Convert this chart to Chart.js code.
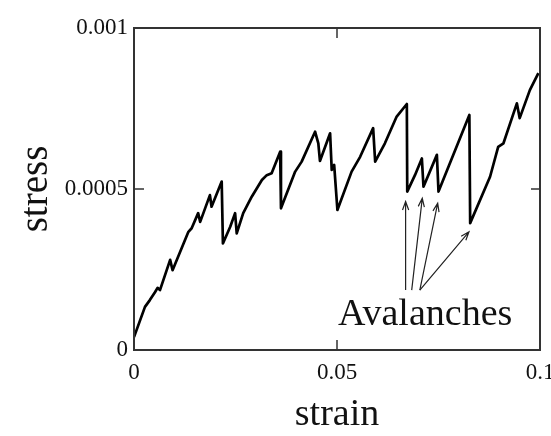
<!DOCTYPE html>
<html>
<head>
<meta charset="utf-8">
<script src="https://cdn.jsdelivr.net/npm/chart.js@4.4.1/dist/chart.umd.min.js"></script>
<style>
  html, body { margin: 0; padding: 0; background: #fff; }
  #wrap { width: 551px; height: 436px; }
</style>
</head>
<body>
<div id="wrap"><canvas id="stressChart" width="551" height="436"></canvas></div>
<script>
/* stress-strain curve with avalanche drops */
const strain = [0, 0.0027, 0.0039, 0.0052, 0.0058, 0.0064, 0.0089, 0.0095, 0.0134, 0.0142,
    0.0158, 0.0163, 0.0187, 0.0191, 0.0216, 0.0219, 0.0237, 0.0249, 0.0253, 0.0269,
    0.0290, 0.0315, 0.0327, 0.0339, 0.0360, 0.0362, 0.0397, 0.0413, 0.0446, 0.0454,
    0.0458, 0.0483, 0.0487, 0.0493, 0.0501, 0.0536, 0.0557, 0.0589, 0.0594, 0.0618,
    0.0647, 0.0672, 0.0673, 0.0692, 0.0709, 0.0713, 0.0746, 0.0750, 0.0826, 0.0828,
    0.0877, 0.0897, 0.0910, 0.0943, 0.0950, 0.0975, 0.0996];
const stress = [0.00004, 0.000134, 0.000155, 0.00018, 0.000193, 0.000186, 0.00028, 0.000248, 0.000367, 0.000378,
    0.000425, 0.000398, 0.000481, 0.000445, 0.000523, 0.000331, 0.000383, 0.000425, 0.000362, 0.000425,
    0.000476, 0.000528, 0.000543, 0.000549, 0.000616, 0.00044, 0.000554, 0.000585, 0.000678, 0.000642,
    0.000587, 0.000673, 0.000559, 0.000575, 0.000435, 0.000554, 0.0006, 0.000689, 0.000585, 0.000642,
    0.000725, 0.000764, 0.000492, 0.000543, 0.000595, 0.000507, 0.000606, 0.000492, 0.00073, 0.000394,
    0.000538, 0.000631, 0.000642, 0.000766, 0.00072, 0.000807, 0.00086];

const xTickLabels = ['0', '0.05', '0.1'];
const yTickLabels = ['0', '0.0005', '0.001'];

// annotation: arrows from the label up to the avalanche minima
const arrowFromX = [0.0669, 0.0684, 0.0704, 0.0704];
const arrowFromY = [0.000186, 0.000186, 0.000186, 0.000186];
const arrowToX   = [0.0669, 0.0710, 0.0748, 0.0825];
const arrowToY   = [0.000461, 0.000471, 0.000456, 0.000367];
const noteText = 'Avalanches';
const noteAt = [0.0717, 0.000078];

const SERIF = '"Liberation Serif", "Times New Roman", serif';

const decor = {
    id: 'decor',
    afterDatasetsDraw(chart) {
        const { ctx, chartArea: a, scales: { x, y } } = chart;
        ctx.save();
        // frame
        ctx.strokeStyle = '#333';
        ctx.lineWidth = 2;
        ctx.strokeRect(a.left, a.top, a.right - a.left, a.bottom - a.top);
        // inward ticks on all four sides
        ctx.lineWidth = 1.5;
        ctx.beginPath();
        x.ticks.forEach(t => {
            const px = x.getPixelForValue(t.value);
            if (px <= a.left + 1 || px >= a.right - 1) return;
            ctx.moveTo(px, a.bottom); ctx.lineTo(px, a.bottom - 10);
            ctx.moveTo(px, a.top);    ctx.lineTo(px, a.top + 10);
        });
        y.ticks.forEach(t => {
            const py = y.getPixelForValue(t.value);
            if (py <= a.top + 1 || py >= a.bottom - 1) return;
            ctx.moveTo(a.left, py);  ctx.lineTo(a.left + 10, py);
            ctx.moveTo(a.right, py); ctx.lineTo(a.right - 9, py);
        });
        ctx.stroke();
        // arrows
        ctx.strokeStyle = '#222';
        ctx.lineWidth = 1.2;
        for (let i = 0; i < arrowToX.length; i++) {
            const x0 = x.getPixelForValue(arrowFromX[i]), y0 = y.getPixelForValue(arrowFromY[i]);
            const x1 = x.getPixelForValue(arrowToX[i]),   y1 = y.getPixelForValue(arrowToY[i]);
            const ang = Math.atan2(y1 - y0, x1 - x0);
            ctx.beginPath();
            ctx.moveTo(x0, y0); ctx.lineTo(x1, y1);
            ctx.moveTo(x1 - 9 * Math.cos(ang - 0.35), y1 - 9 * Math.sin(ang - 0.35));
            ctx.lineTo(x1, y1);
            ctx.lineTo(x1 - 9 * Math.cos(ang + 0.35), y1 - 9 * Math.sin(ang + 0.35));
            ctx.stroke();
        }
        // label
        ctx.fillStyle = '#111';
        ctx.font = '38px ' + SERIF;
        ctx.textAlign = 'center';
        ctx.textBaseline = 'alphabetic';
        ctx.fillText(noteText, x.getPixelForValue(noteAt[0]), y.getPixelForValue(noteAt[1]));
        ctx.restore();
    }
};

new Chart(document.getElementById('stressChart'), {
    type: 'scatter',
    data: {
        datasets: [{
            data: strain.map((s, i) => ({ x: s, y: stress[i] })),
            showLine: true,
            borderColor: '#000',
            borderWidth: 2.7,
            borderJoinStyle: 'round',
            pointRadius: 0,
            tension: 0,
            fill: false
        }]
    },
    options: {
        responsive: false,
        animation: false,
        devicePixelRatio: 1,
        layout: { padding: { left: 0, right: 11, top: 28, bottom: 0 } },
        plugins: { legend: { display: false }, tooltip: { enabled: false } },
        scales: {
            x: {
                type: 'linear', min: 0, max: 0.1,
                grid: { display: false, drawTicks: false },
                border: { display: false },
                ticks: {
                    stepSize: 0.05, padding: 9, color: '#111',
                    font: { family: SERIF, size: 23 },
                    maxRotation: 0,
                    callback: (v, i) => xTickLabels[i]
                },
                title: { display: true, text: 'strain', color: '#111', font: { family: SERIF, size: 38 }, padding: { top: 0, bottom: -2 } },
                afterFit(s) { s.height = 86; s.paddingLeft = 0; s.paddingRight = 0; }
            },
            y: {
                type: 'linear', min: 0, max: 0.001,
                grid: { display: false, drawTicks: false },
                border: { display: false },
                ticks: {
                    stepSize: 0.0005, padding: 6, color: '#111',
                    font: { family: SERIF, size: 23 },
                    callback: (v, i) => yTickLabels[i]
                },
                title: { display: true, text: 'stress', color: '#111', font: { family: SERIF, size: 39 }, padding: { top: 13, bottom: 0 } },
                afterFit(s) { s.width = 134; s.paddingTop = 0; s.paddingBottom = 0; }
            }
        }
    },
    plugins: [decor]
});
</script>
</body>
</html>
